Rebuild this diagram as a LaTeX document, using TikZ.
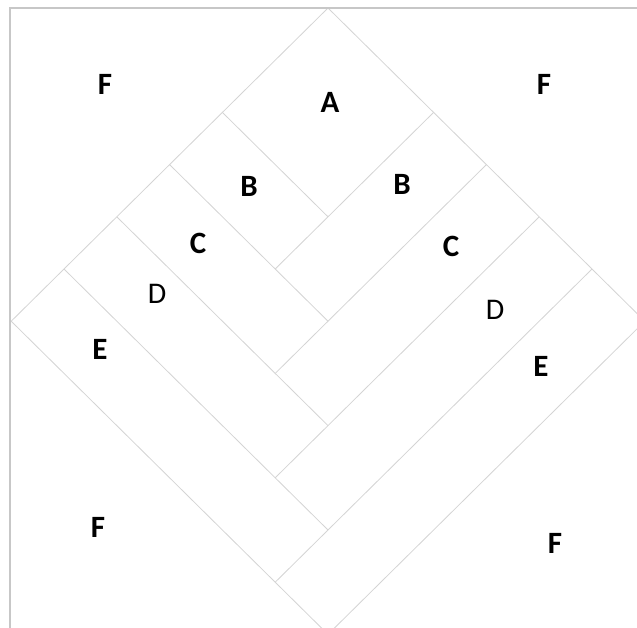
\documentclass[tikz,border=0pt]{standalone}
\usepackage{fontspec}
\setmainfont{Carlito}
\begin{document}
\begin{tikzpicture}[x=1pt,y=-1pt,
  seam/.style={draw=black!17, line width=0.8pt},
  framestyle/.style={draw=black!22, line width=1.2pt},
  lab/.style={font=\fontsize{31}{31}\selectfont\bfseries, inner sep=0pt},
  labr/.style={font=\fontsize{30}{30}\selectfont, inner sep=0pt}]
\useasboundingbox (0,0) rectangle (637,628);
\foreach \a in {0,...,6}{\foreach \b in {0,...,6}{
  \coordinate (p\a\b) at ({328+52.8*(\a-\b)},{8+52.2*(\a+\b)});}}
\begin{scope}
\clip (0,0) rectangle (637,628);
\draw[seam] (p00) -- (p60) -- (p66) -- (p06) -- cycle;
\draw[seam] (p02) -- (p22);
\draw[seam] (p20) -- (p23);
\draw[seam] (p03) -- (p33);
\draw[seam] (p30) -- (p34);
\draw[seam] (p04) -- (p44);
\draw[seam] (p40) -- (p45);
\draw[seam] (p05) -- (p55);
\draw[seam] (p50) -- (p56);
\end{scope}
\coordinate (f1) at (10,628);
\coordinate (f2) at (10,8);
\coordinate (f3) at (637,8);
\draw[framestyle] (f1) -- (f2) -- (f3);
\node[lab] (fTL) at (105,84) {F};
\node[lab] (fTR) at (544,84) {F};
\node[lab] (a) at (330,102) {A};
\node[lab] (bL) at (249,186) {B};
\node[lab] (bR) at (402,184) {B};
\node[lab] (cL) at (198,243) {C};
\node[lab] (cR) at (451,246) {C};
\node[labr] (dL) at (157,294) {D};
\node[labr] (dR) at (495,310) {D};
\node[lab] (eL) at (100,349) {E};
\node[lab] (eR) at (541,366) {E};
\node[lab] (fBL) at (98,527) {F};
\node[lab] (fBR) at (555,543) {F};
\end{tikzpicture}
\end{document}
